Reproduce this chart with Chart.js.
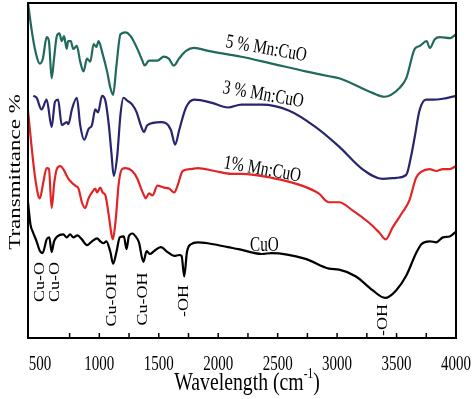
<!DOCTYPE html>
<html>
<head>
<meta charset="utf-8">
<script src="https://cdn.jsdelivr.net/npm/chart.js@4.4.0/dist/chart.umd.min.js"></script>
<style>
  html, body { margin: 0; padding: 0; background: #fff; }
  canvas { display: block; }
</style>
</head>
<body>
<canvas id="ftir" width="474" height="399"></canvas>
<script>
// wavenumber (cm-1) and transmittance (a.u., offset)
const wnCuO = [400,421,443,472,500,523,557,579,599,619,647,697,726,754,782,816,853,896,938,981,1008,1036,1059,1093,1116,1144,1172,1206,1229,1248,1277,1305,1333,1370,1398,1426,1460,1517,1574,1630,1672,1692,1714,1737,1771,1828,1913,2082,2170,2367,2449,2735,2932,3017,3159,3297,3404,3498,3582,3665,3709,3780,3834,3890,3947,4000];
const tCuO = [139,116,108,99,89,87,101,103,88,99,104,106,103,106,103,105,101,95,99,102,99,97,99,88,76,88,103,104,91,104,107,104,98,78,89,86,89,93,88,84,85,84,63,88,96,98,97,93,91,86,87,81,71,70,63,49,41,49,64,87,96,99,98,103,104,109];

const wnMn1 = [400,430,458,486,500,528,557,576,599,621,642,670,697,726,740,769,797,825,853,881,909,938,966,980,1008,1028,1051,1079,1102,1113,1136,1164,1192,1221,1277,1320,1348,1376,1390,1418,1447,1489,1545,1587,1630,1658,1701,1771,1828,1969,2110,2195,2449,2704,2845,2930,3017,3127,3269,3354,3409,3466,3551,3608,3664,3706,3777,3834,3890,3947,4000];
const tMn1 = [233,196,166,146,143,159,174,173,133,159,173,176,173,166,163,159,156,153,139,133,143,149,153,149,154,149,146,126,106,101,119,159,173,174,171,163,154,146,143,148,146,156,154,153,149,156,171,173,174,171,168,168,164,156,148,139,139,131,118,108,101,113,129,141,164,170,173,171,173,173,176];

const wnMn3 = [445,472,514,557,599,627,653,684,726,740,769,811,839,873,909,938,966,989,1023,1051,1079,1102,1121,1150,1178,1203,1235,1277,1314,1348,1376,1404,1518,1560,1602,1638,1672,1729,1799,1940,2082,2195,2364,2593,2820,3017,3212,3382,3498,3581,3622,3653,3693,3749,3806,3890,4000];
const tMn3 = [248,246,234,244,216,242,244,218,221,219,234,246,218,203,214,218,234,231,248,243,219,189,166,186,229,246,243,239,231,218,211,218,221,220,213,198,213,236,244,241,236,239,239,233,216,196,173,163,164,167,186,206,233,244,244,245,248];

const wnMn5 = [400,430,458,500,525,557,576,599,619,642,664,684,703,726,737,760,780,811,839,867,896,924,952,975,994,1023,1065,1093,1116,1144,1178,1221,1263,1320,1362,1381,1418,1489,1542,1584,1627,1670,1729,1797,1915,2195,2449,2735,2932,3017,3297,3398,3525,3582,3653,3695,3752,3780,3822,3865,3950,4000];
const tMn5 = [343,316,296,281,286,308,304,266,286,309,312,304,309,296,304,304,296,299,283,273,286,283,301,298,304,293,273,256,249,279,311,313,309,296,284,279,284,284,288,286,279,286,294,297,294,288,281,273,268,266,251,247,256,266,296,299,304,297,306,308,307,311];

const xTickLabels = [500, 1000, 1500, 2000, 2500, 3000, 3500, 4000];

const serif = "'Liberation Serif', 'Times New Roman', serif";

function pts(xs, ys) {
    return xs.map((x, i) => ({ x: x, y: ys[i] }));
}

function line(data, color) {
    return {
        data: data,
        borderColor: color,
        borderWidth: 2.2,
        pointRadius: 0,
        cubicInterpolationMode: 'monotone',
        fill: false
    };
}

// draw squeezed serif text (the original figure is compressed horizontally)
function txt(ctx, s, x, y, size, opt) {
    opt = opt || {};
    ctx.save();
    ctx.translate(x, y);
    if (opt.rot) ctx.rotate(opt.rot);
    ctx.scale(opt.sx || 1, opt.sy || 1);
    ctx.font = size + 'px ' + serif;
    ctx.fillStyle = '#000';
    ctx.textAlign = opt.align || 'left';
    ctx.textBaseline = opt.base || 'alphabetic';
    ctx.fillText(s, 0, 0);
    ctx.restore();
}

const decor = {
    id: 'decor',
    afterDraw(chart) {
        const ctx = chart.ctx;
        const a = chart.chartArea;
        const xs = chart.scales.x;

        // frame
        ctx.save();
        ctx.strokeStyle = '#000';
        ctx.lineWidth = 2;
        ctx.strokeRect(a.left, a.top, a.right - a.left, a.bottom - a.top);

        // inward ticks every 250
        ctx.lineWidth = 1.5;
        xs.ticks.forEach(t => {
            const px = xs.getPixelForValue(t.value);
            ctx.beginPath();
            ctx.moveTo(px, a.bottom);
            ctx.lineTo(px, a.bottom - 5);
            ctx.stroke();
        });
        ctx.restore();

        xTickLabels.forEach(v => {
            txt(ctx, String(v), xs.getPixelForValue(v), 370, 20, { sx: 0.75, align: 'center' });
        });

        // axis titles
        txt(ctx, 'Transmittance %', 20, 172, 23, { rot: -Math.PI / 2, sy: 0.75, align: 'center' });
        ctx.save();
        ctx.font = '26px ' + serif;
        const w1 = ctx.measureText('Wavelength (cm').width;
        const w3 = ctx.measureText(')').width;
        ctx.font = '15px ' + serif;
        const w2 = ctx.measureText('-1').width;
        ctx.restore();
        const sq = 0.76;
        const total = (w1 + w2 + w3) * sq;
        let x0 = 247 - total / 2;
        txt(ctx, 'Wavelength (cm', x0, 390, 26, { sx: sq });
        txt(ctx, '-1', x0 + w1 * sq, 378, 15, { sx: sq });
        txt(ctx, ')', x0 + (w1 + w2) * sq, 390, 26, { sx: sq });

        // series labels
        const tilt = 10 * Math.PI / 180;
        txt(ctx, '5 % Mn:CuO', 225, 47, 20, { rot: tilt, sx: 0.76 });
        txt(ctx, '3 % Mn:CuO', 222, 93, 20, { rot: tilt, sx: 0.76 });
        txt(ctx, '1% Mn:CuO', 223, 168, 20, { rot: tilt, sx: 0.76 });
        txt(ctx, 'CuO', 250, 251, 20, { sx: 0.76 });

        // band assignments
        const vert = { rot: -Math.PI / 2, sy: 0.85, align: 'center', base: 'middle' };
        txt(ctx, 'Cu-O', 40, 282, 18, vert);
        txt(ctx, 'Cu-O', 55, 282, 18, vert);
        txt(ctx, 'Cu-OH', 112, 300, 18, vert);
        txt(ctx, 'Cu-OH', 143, 299, 18, vert);
        txt(ctx, '-OH', 184, 301, 18, vert);
        txt(ctx, '-OH', 383, 320, 18, vert);
    }
};

new Chart(document.getElementById('ftir'), {
    type: 'line',
    data: {
        datasets: [
            line(pts(wnCuO, tCuO), '#000000'),
            line(pts(wnMn1, tMn1), '#e32424'),
            line(pts(wnMn3, tMn3), '#28246e'),
            line(pts(wnMn5, tMn5), '#1f6a5c')
        ]
    },
    options: {
        responsive: false,
        animation: false,
        events: [],
        layout: { padding: { left: 28, right: 18, top: 3, bottom: 53 } },
        plugins: { legend: { display: false }, tooltip: { enabled: false } },
        scales: {
            x: {
                type: 'linear',
                min: 400,
                max: 4000,
                ticks: { stepSize: 250, display: false },
                grid: { display: false },
                border: { display: false }
            },
            y: {
                display: false,
                min: 0,
                max: 343
            }
        }
    },
    plugins: [decor]
});
</script>
</body>
</html>
